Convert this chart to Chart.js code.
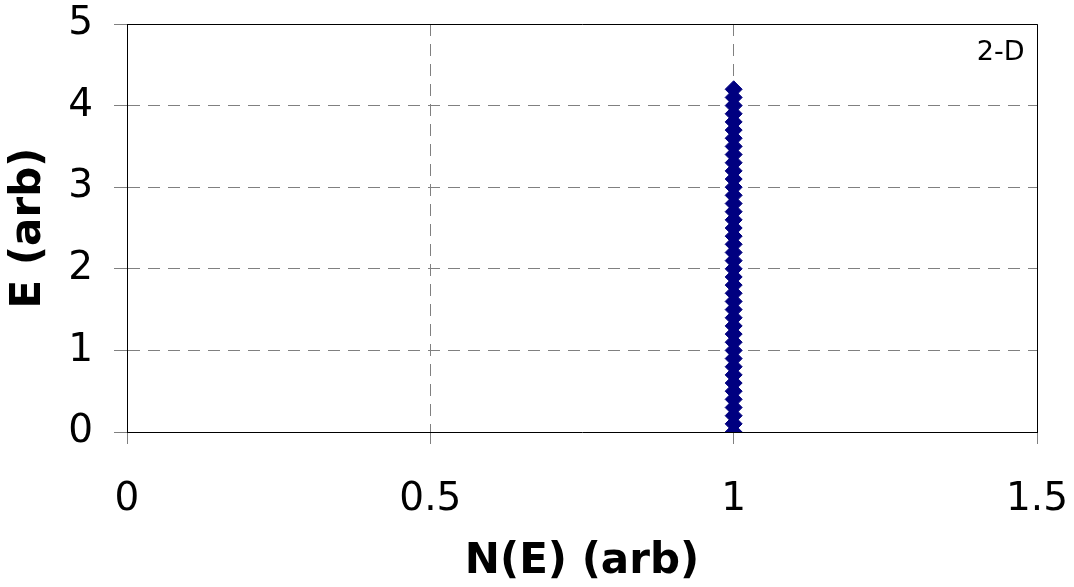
<!DOCTYPE html>
<html>
<head>
<meta charset="utf-8">
<script src="https://cdn.jsdelivr.net/npm/chart.js@4"></script>
<style>
  body { margin: 0; background: #fff; }
  #wrap { width: 1074px; height: 587px; }
</style>
</head>
<body>
<div id="wrap"><canvas id="dos_chart" width="1074" height="587"></canvas></div>
<script>
// density of states, 2-D case: constant N(E)
var energyValues = [0, 0.1, 0.2, 0.3, 0.4, 0.5, 0.6, 0.7, 0.8, 0.9,
    1.0, 1.1, 1.2, 1.3, 1.4, 1.5, 1.6, 1.7, 1.8, 1.9,
    2.0, 2.1, 2.2, 2.3, 2.4, 2.5, 2.6, 2.7, 2.8, 2.9,
    3.0, 3.1, 3.2, 3.3, 3.4, 3.5, 3.6, 3.7, 3.8, 3.9,
    4.0, 4.1, 4.2];
var densityValues = [1, 1, 1, 1, 1, 1, 1, 1, 1, 1,
    1, 1, 1, 1, 1, 1, 1, 1, 1, 1,
    1, 1, 1, 1, 1, 1, 1, 1, 1, 1,
    1, 1, 1, 1, 1, 1, 1, 1, 1, 1,
    1, 1, 1];
var xTicks = [0, 0.5, 1, 1.5];
var yTicks = [0, 1, 2, 3, 4, 5];
var plotLabel = '2-D';

var points = [];
for (var i = 0; i < energyValues.length; i++) {
    points.push({ x: densityValues[i], y: energyValues[i] });
}

var fontFamily = '"DejaVu Sans", Verdana, sans-serif';

// top and right frame lines + the "2-D" label
var framePlugin = {
    id: 'frame',
    afterDraw: function (chart) {
        var ctx = chart.ctx;
        var a = chart.chartArea;
        ctx.save();
        ctx.strokeStyle = '#000';
        ctx.lineWidth = 1;
        ctx.setLineDash([]);
        ctx.beginPath();
        ctx.moveTo(a.left, a.top + 0.5);
        ctx.lineTo(a.right + 0.5, a.top + 0.5);
        ctx.lineTo(a.right + 0.5, a.bottom);
        ctx.stroke();
        ctx.fillStyle = '#000';
        ctx.font = '27px ' + fontFamily;
        ctx.textAlign = 'center';
        ctx.textBaseline = 'middle';
        ctx.fillText(plotLabel, chart.scales.x.getPixelForValue(1.44), chart.scales.y.getPixelForValue(4.64));
        ctx.restore();
    }
};

var dos_chart = document.getElementById('dos_chart');
var My_dos_chart = new Chart(dos_chart, {
    type: 'scatter',
    data: {
        datasets: [{
            data: points,
            pointStyle: 'rectRot',
            pointRadius: 8.5,
            borderWidth: 1,
            borderColor: '#000080',
            backgroundColor: '#000080',
            showLine: false
        }]
    },
    options: {
        responsive: false,
        animation: false,
        layout: { padding: { top: 24, right: 37, left: 0, bottom: 0 } },
        plugins: {
            legend: { display: false },
            tooltip: { enabled: false }
        },
        scales: {
            x: {
                type: 'linear',
                min: 0,
                max: 1.5,
                afterBuildTicks: function (scale) {
                    scale.ticks = xTicks.map(function (v) { return { value: v }; });
                },
                afterFit: function (scale) {
                    scale.height = 587 - 432;
                    scale.paddingLeft = 0;
                    scale.paddingRight = 0;
                },
                ticks: {
                    color: '#000',
                    padding: 32,
                    font: { family: fontFamily, size: 39 },
                    callback: function (v) { return String(v); }
                },
                grid: {
                    color: '#808080',
                    tickLength: 12,
                    tickColor: '#808080',
                    tickBorderDash: []
                },
                border: { color: '#000', width: 1, dash: [12, 8] },
                title: {
                    display: true,
                    text: 'N(E) (arb)',
                    color: '#000',
                    padding: { top: 0, bottom: 0 },
                    font: { family: fontFamily, size: 42, weight: 'bold' }
                }
            },
            y: {
                type: 'linear',
                min: 0,
                max: 5,
                afterBuildTicks: function (scale) {
                    scale.ticks = yTicks.map(function (v) { return { value: v }; });
                },
                afterFit: function (scale) {
                    scale.width = 127;
                    scale.paddingTop = 0;
                    scale.paddingBottom = 0;
                },
                ticks: {
                    color: '#000',
                    padding: 21,
                    font: { family: fontFamily, size: 39 },
                    callback: function (v) { return String(v); }
                },
                grid: {
                    color: '#808080',
                    tickLength: 13,
                    tickColor: '#808080',
                    tickBorderDash: []
                },
                border: { color: '#000', width: 1, dash: [12, 8] },
                title: {
                    display: true,
                    text: 'E (arb)',
                    color: '#000',
                    padding: { top: 4, bottom: 0 },
                    font: { family: fontFamily, size: 42, weight: 'bold' }
                }
            }
        }
    },
    plugins: [framePlugin]
});
</script>
</body>
</html>
